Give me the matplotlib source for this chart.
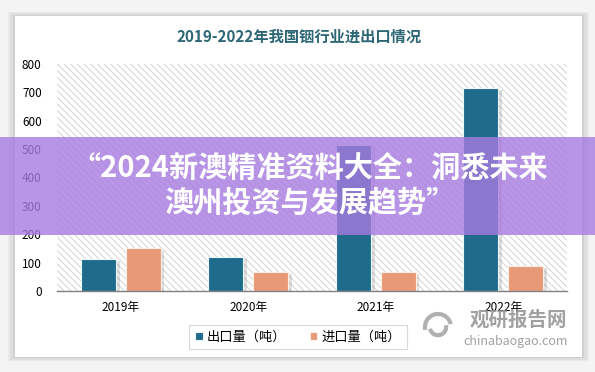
import numpy as np
import matplotlib.pyplot as plt
from matplotlib.patches import Rectangle, Arc

plt.rcParams['font.family'] = ['Noto Sans CJK SC', 'DejaVu Sans']
plt.rcParams['hatch.color'] = '#cccccc'
plt.rcParams['hatch.linewidth'] = 0.6

years = ['2019年', '2020年', '2021年', '2022年']
export_t = [112, 120, 515, 717]
import_t = [150, 67, 67, 88]
title = '2019-2022年我国铟行业进出口情况'
legend_labels = ['出口量（吨）', '进口量（吨）']
banner = '“2024新澳精准资料大全：洞悉未来\n澳州投资与发展趋势”'

c_exp = '#1f6b8b'
c_imp = '#e89a78'

fig = plt.figure(figsize=(5.95, 3.72), dpi=100)
fig.patch.set_facecolor('#f4f4f4')

# white card with soft shadow
for i, a in enumerate([0.04, 0.05, 0.06]):
    d = (3 - i) * 0.004
    fig.patches.append(Rectangle((15 / 595 - d, 1 - 357 / 372 - d), 567 / 595 + 2 * d, 341 / 372 + 2 * d,
                                 transform=fig.transFigure, facecolor='black', alpha=a,
                                 edgecolor='none', zorder=-3))
fig.patches.append(Rectangle((15 / 595, 1 - 357 / 372), 567 / 595, 341 / 372,
                             transform=fig.transFigure, facecolor='white', edgecolor='none', zorder=-2))

ax = fig.add_axes([57 / 595, 1 - 291 / 372, 510 / 595, 227 / 372])
ax.set_facecolor('none')

# hatched plot background
ax.add_patch(Rectangle((-0.5, 0), 4, 800, facecolor='white', edgecolor='#cccccc',
                       hatch='\\\\\\\\\\', lw=0, zorder=0))

x = np.arange(len(years))
w = 0.275
off = 0.175
# bar shadows
ax.bar(x - off + 0.03, np.array(export_t) - 6, w, bottom=-2, color='#000000', alpha=0.12, zorder=1)
ax.bar(x + off + 0.03, np.array(import_t) - 6, w, bottom=-2, color='#000000', alpha=0.12, zorder=1)
ax.bar(x - off, export_t, w, color=c_exp, edgecolor='#e8f8f8', lw=0.8, zorder=2, label=legend_labels[0])
ax.bar(x + off, import_t, w, color=c_imp, edgecolor='#fdf0e6', lw=0.8, zorder=2, label=legend_labels[1])

ax.set_xlim(-0.5, 3.5)
ax.set_ylim(0, 800)
ax.set_yticks(range(0, 801, 100))
ax.set_xticks(x)
ax.set_xticklabels(years)
ax.tick_params(axis='both', length=0, labelsize=8.5, colors='black')
ax.tick_params(axis='y', pad=11)
ax.tick_params(axis='x', pad=7)
for s in ['top', 'right', 'left']:
    ax.spines[s].set_visible(False)
ax.spines['bottom'].set_color('#808080')
ax.spines['bottom'].set_linewidth(1)
ax.spines['bottom'].set_zorder(3)

fig.text(299 / 595, 1 - 37 / 372, title, ha='center', va='center', fontsize=11,
         fontweight='bold', color='#2d6675')

leg = fig.legend(loc='center', bbox_to_anchor=(298 / 595, 1 - 337 / 372), ncol=2, frameon=True,
                 fontsize=9.5, handlelength=0.55, handleheight=0.55, handletextpad=0.3,
                 columnspacing=1.8, borderpad=0.45, fancybox=False)
leg.get_frame().set_edgecolor('#d0d0d0')
leg.get_frame().set_linewidth(0.8)

# watermark
fig.text(518 / 595, 1 - 320 / 372, '观研报告网', ha='center', va='center', fontsize=14,
         fontweight='bold', color='#8a8a8a', alpha=0.8)
fig.text(516 / 595, 1 - 342 / 372, 'chinabaogao.com', ha='center', va='center', fontsize=9,
         color='#8a8a8a', alpha=0.8)
lx, ly = 438 / 595, 1 - 327 / 372
for r, t1, t2 in [(0.035, 20, 200), (0.022, 200, 20)]:
    fig.patches.append(Arc((lx, ly), r * 2 * 372 / 595, r * 2, theta1=t1, theta2=t2,
                           transform=fig.transFigure, color='#b0b0b0', lw=3))

# purple banner
fig.patches.append(Rectangle((0, 1 - 235 / 372), 1, 98 / 372, transform=fig.transFigure,
                             facecolor='#a77be0', alpha=0.8, edgecolor='none', zorder=10))
fig.text(310 / 595, 1 - 186 / 372, banner, ha='center', va='center', ma='center', fontsize=21,
         fontweight='bold', color='white', linespacing=1.15, zorder=11)

fig.savefig('out.png', dpi=100)
